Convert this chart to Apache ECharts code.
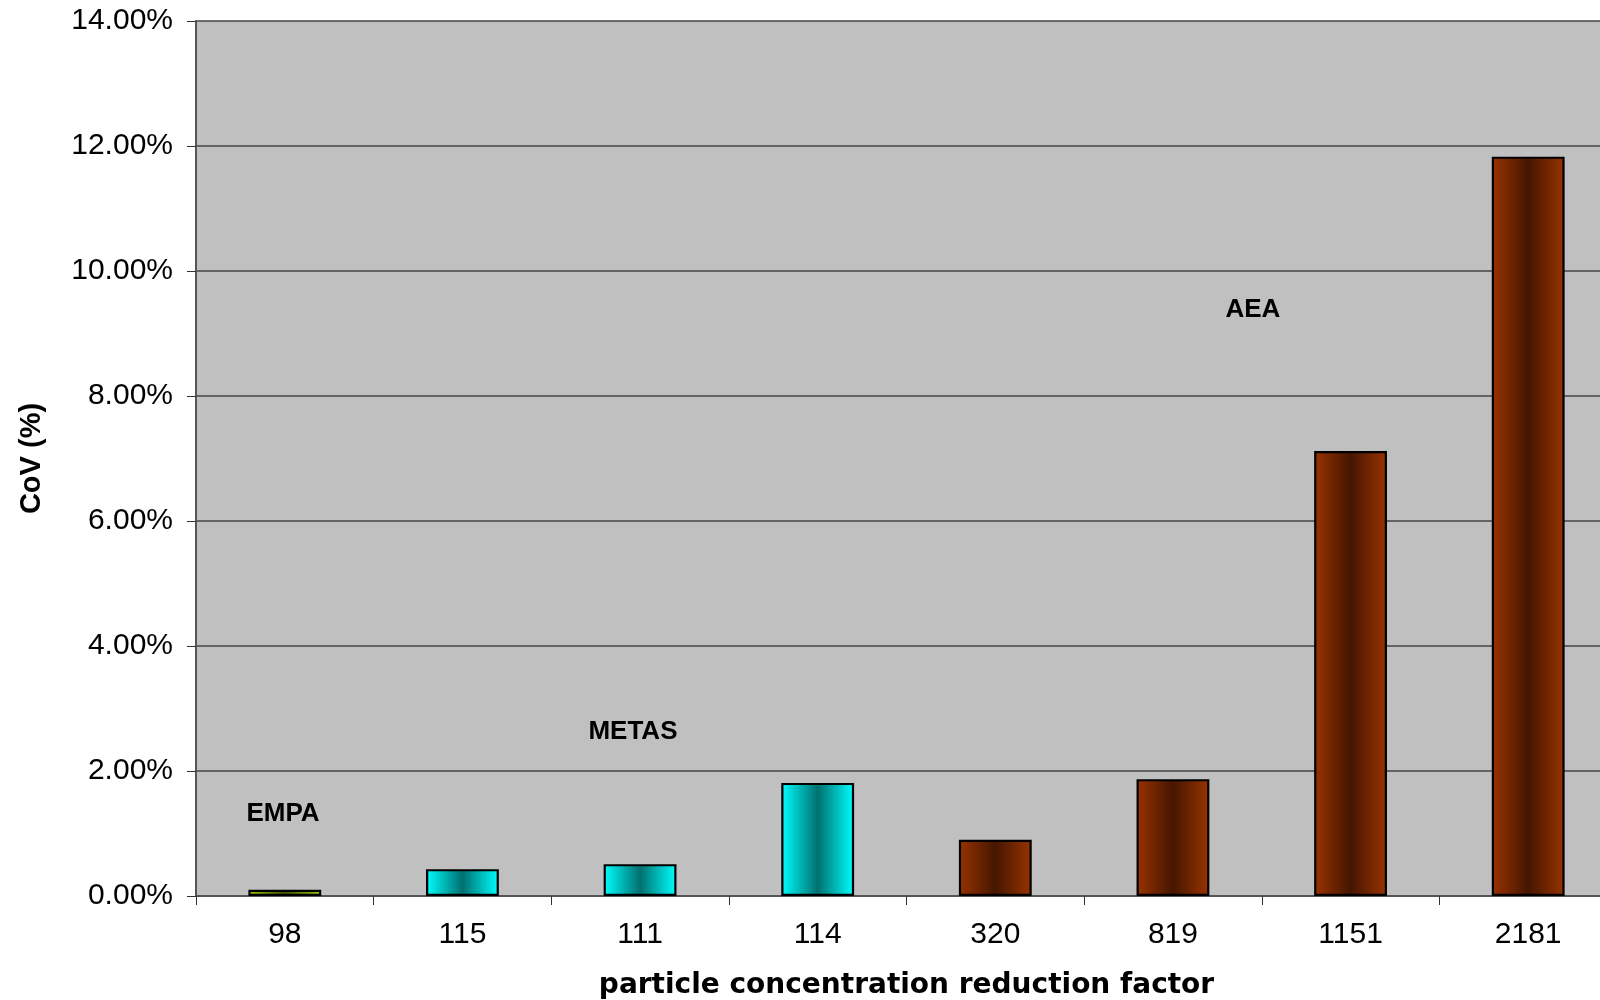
<!DOCTYPE html>
<html>
<head>
<meta charset="utf-8">
<title>CoV by particle concentration reduction factor</title>
<script src="https://cdn.jsdelivr.net/npm/echarts@6/dist/echarts.min.js"></script>
<style>
  html, body { margin: 0; padding: 0; background: #ffffff; overflow: hidden; }
  #chart { width: 1600px; height: 1000px; }
</style>
</head>
<body>
<div id="chart"></div>
<script>
// Reduction factors (category labels) and coefficient of variation in percent
const categories = ['98', '115', '111', '114', '320', '819', '1151', '2181'];
const covValues = [0.10, 0.43, 0.51, 1.81, 0.90, 1.87, 7.12, 11.83];
const labs = ['EMPA', 'METAS', 'METAS', 'METAS', 'AEA', 'AEA', 'AEA', 'AEA'];

// Laboratory name annotations: [position along categories, CoV %, text]
const labNotes = [
  [0.49, 1.32, 'EMPA'],
  [2.46, 2.63, 'METAS'],
  [5.95, 9.38, 'AEA']
];

const yTicks = { min: 0, max: 14, interval: 2 };

const FONT = '"Liberation Sans", Arial, sans-serif';

// Cylinder-like shading: light edges, dark middle
function shade(edge, mid) {
  return {
    type: 'linear', x: 0, y: 0, x2: 1, y2: 0,
    colorStops: [
      { offset: 0, color: edge },
      { offset: 0.5, color: mid },
      { offset: 1, color: edge }
    ]
  };
}
const labFill = {
  EMPA: shade('#99cc00', '#3f5500'),
  METAS: shade('#00ffff', '#007070'),
  AEA: shade('#993300', '#461600')
};

const chart = echarts.init(document.getElementById('chart'), null, { renderer: 'canvas' });

chart.setOption({
  animation: false,
  backgroundColor: '#ffffff',
  textStyle: { fontFamily: FONT },
  grid: {
    left: 196, top: 21, width: 1421, height: 875,
    outerBoundsMode: 'none',
    containLabel: false,
    show: true, backgroundColor: '#c0c0c0', borderWidth: 0
  },
  xAxis: [
    {
      type: 'category',
      data: categories,
      axisLine: { show: true, lineStyle: { color: '#555555', width: 2 } },
      axisTick: { show: true, alignWithLabel: false, length: 9, lineStyle: { color: '#333333', width: 1 } },
      axisLabel: { color: '#000000', fontSize: 30, fontFamily: FONT, margin: 24 },
      name: 'particle concentration reduction factor',
      nameLocation: 'middle',
      nameGap: 76,
      nameTextStyle: { color: '#000000', fontSize: 28, fontWeight: 'bold', fontFamily: '"DejaVu Sans", sans-serif' }
    },
    {
      type: 'value', min: 0, max: 8, show: false
    }
  ],
  yAxis: {
    type: 'value',
    min: yTicks.min, max: yTicks.max, interval: yTicks.interval,
    axisLine: { show: true, lineStyle: { color: '#555555', width: 2 } },
    axisTick: { show: true, length: 9, lineStyle: { color: '#333333', width: 1 } },
    axisLabel: {
      color: '#000000', fontSize: 30, fontFamily: FONT, margin: 23,
      formatter: v => v.toFixed(2) + '%'
    },
    splitLine: { show: true, lineStyle: { color: '#444444', width: 1.5 } },
    name: 'CoV (%)',
    nameLocation: 'middle',
    nameGap: 150,
    nameRotate: 90,
    nameTextStyle: { color: '#000000', fontSize: 29, fontWeight: 'bold', fontFamily: FONT }
  },
  series: [
    {
      type: 'bar',
      xAxisIndex: 0,
      barWidth: '41%',
      data: covValues.map((v, i) => ({
        value: v,
        itemStyle: { color: labFill[labs[i]], borderColor: '#000000', borderWidth: 2.2 }
      }))
    },
    {
      type: 'scatter',
      xAxisIndex: 1,
      symbolSize: 0,
      silent: true,
      itemStyle: { opacity: 1 },
      data: labNotes.map(n => ({ value: [n[0], n[1]], name: n[2] })),
      label: {
        show: true, position: 'inside', opacity: 1,
        formatter: p => p.name,
        color: '#000000', fontSize: 26, fontWeight: 'bold', fontFamily: FONT
      }
    }
  ]
});
</script>
</body>
</html>
